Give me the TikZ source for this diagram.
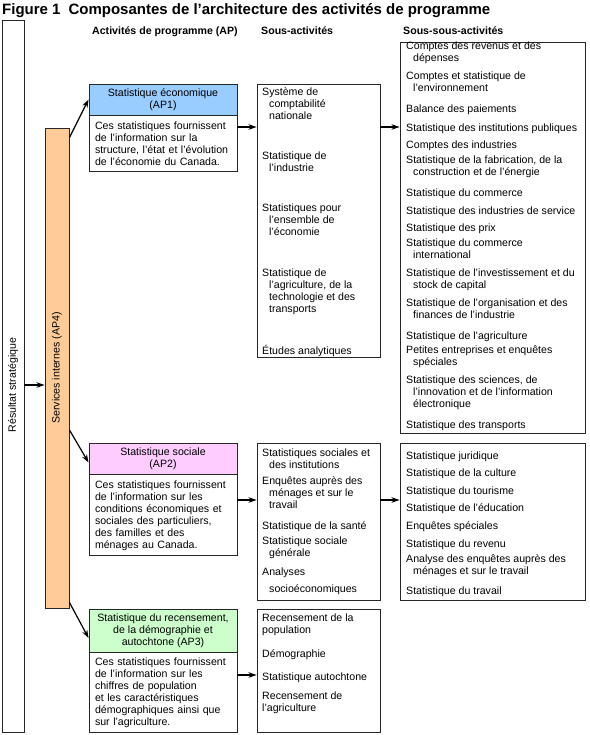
\documentclass[tikz,border=0pt]{standalone}
\usepackage{fontspec}
\setmainfont{Liberation Sans}
\usepackage{graphicx}
\usepackage{xcolor}
\usetikzlibrary{positioning,arrows.meta}
\definecolor{apblue}{HTML}{99CCFF}
\definecolor{appink}{HTML}{FFCCFF}
\definecolor{apgreen}{HTML}{CCFFCC}
\definecolor{aporange}{HTML}{FFCC99}
\newcommand{\hi}{\hspace*{7pt}}
\newcommand{\txtsize}{\fontsize{10.6}{12}\selectfont}

\begin{document}
\begin{tikzpicture}[x=1pt,y=-1pt,
  box/.style={draw=black!85,line width=0.9pt,inner sep=0pt},
  itm/.style={anchor=north west,yshift=10pt,align=left,inner sep=0pt,font=\txtsize,
    execute at begin node={\rule{0pt}{10pt}}},
  hdr/.style={box,minimum width=148pt,align=center,font=\txtsize},
  bdy/.style={box,text width=136pt,inner xsep=6pt,align=left,font=\txtsize,fill=white},
  col/.style={anchor=base west,inner sep=0pt,font=\fontsize{10.6}{12}\selectfont\bfseries},
  arr/.style={line width=1.2pt,-{Stealth[length=8pt,width=5.5pt]}}]
  \useasboundingbox (0,0) rectangle (589,735);

  \node[anchor=base west,inner sep=0pt,font=\fontsize{15}{18}\selectfont\bfseries] (title) at (2,15)
    {Figure 1\hspace{8pt}Composantes de l'architecture des activités de programme};
  \node[col] (colap) at (92,35) {Activités de programme (AP)};
  \node[col] (colsa) at (261,35) {Sous-activités};
  \node[col] (colssa) at (403,35) {Sous-sous-activités};

  \node[box,minimum width=22pt,minimum height=712pt] (res) at (13,376) {};
  \node[rotate=90,inner sep=0pt,font=\txtsize] (restxt) at (13,385) {Résultat stratégique};
  \node[box,fill=aporange,minimum width=24pt,minimum height=480pt,font=\txtsize] (sint) at (57,368)
    {\rotatebox{90}{Services internes (AP4)}};

  \node[hdr,fill=apblue,minimum height=31pt] (ap1h) at (163,99.5) {Statistique économique\\(AP1)};
  \node[bdy,minimum height=56pt,below=0pt of ap1h] (ap1b)
    {Ces statistiques fournissent\\de l'information sur la\\structure, l'état et l'évolution\\de l'économie du Canada.};
  \node[hdr,fill=appink,minimum height=31pt] (ap2h) at (163,458.5) {Statistique sociale\\(AP2)};
  \node[bdy,minimum height=81pt,below=0pt of ap2h] (ap2b)
    {Ces statistiques fournissent\\de l'information sur les\\conditions économiques et\\sociales des particuliers,\\des familles et des\\ménages au Canada.};
  \node[hdr,fill=apgreen,minimum height=43pt] (ap3h) at (163,630.5)
    {Statistique du recensement,\\de la démographie et\\autochtone (AP3)};
  \node[bdy,minimum height=80pt,below=0pt of ap3h] (ap3b)
    {Ces statistiques fournissent\\de l'information sur les\\chiffres de population\\et les caractéristiques\\démographiques ainsi que\\sur l'agriculture.};

  \node[box,minimum width=123pt,minimum height=273pt] (sa1) at (318.5,220.5) {};
  \node[box,minimum width=123pt,minimum height=157pt] (sa2) at (318.5,521.5) {};
  \node[box,minimum width=123pt,minimum height=123pt] (sa3) at (318.5,670.5) {};
  \node[box,minimum width=185pt,minimum height=391pt] (ssa1) at (492.5,237.5) {};
  \node[box,minimum width=185pt,minimum height=157pt] (ssa2) at (492.5,521.5) {};

  \foreach \yb/\t [count=\i] in {97/{Système de\\\hi comptabilité\\\hi nationale},
      162/{Statistique de\\\hi l'industrie},
      214/{Statistiques pour\\\hi l'ensemble de\\\hi l'économie},
      279/{Statistique de\\\hi l'agriculture, de la\\\hi technologie et des\\\hi transports},
      354/{Études analytiques}}
    \node[itm] (sa1-\i) at (262,\yb) {\t};
  \foreach \yb/\t [count=\i] in {459/{Statistiques sociales et\\\hi des institutions},
      486/{Enquêtes auprès des\\\hi ménages et sur le\\\hi travail},
      529/{Statistique de la santé},
      547/{Statistique sociale\\\hi générale},
      578/{Analyses\\[5pt]\hi socioéconomiques}}
    \node[itm] (sa2-\i) at (262,\yb) {\t};
  \foreach \yb/\t [count=\i] in {624/{Recensement de la\\population},
      657/{Démographie},
      680/{Statistique autochtone},
      702/{Recensement de\\l'agriculture}}
    \node[itm] (sa3-\i) at (262,\yb) {\t};

  \foreach \yb/\t [count=\i] in {52/{Comptes des revenus et des\\\hi dépenses},
      82/{Comptes et statistique de\\\hi l'environnement},
      112/{Balance des paiements},
      131/{Statistique des institutions publiques},
      148/{Comptes des industries},
      166/{Statistique de la fabrication, de la\\\hi construction et de l'énergie},
      196/{Statistique du commerce},
      214/{Statistique des industries de service},
      231/{Statistique des prix},
      249/{Statistique du commerce\\\hi international},
      279/{Statistique de l'investissement et du\\\hi stock de capital},
      309/{Statistique de l'organisation et des\\\hi finances de l'industrie},
      339/{Statistique de l'agriculture},
      356/{Petites entreprises et enquêtes\\\hi spéciales},
      386/{Statistique des sciences, de\\\hi l'innovation et de l'information\\\hi électronique},
      428/{Statistique des transports}}
    \node[itm] (ssa1-\i) at (406,\yb) {\t};
  \foreach \yb/\t [count=\i] in {459/{Statistique juridique},
      476/{Statistique de la culture},
      494/{Statistique du tourisme},
      511/{Statistique de l'éducation},
      529/{Enquêtes spéciales},
      547/{Statistique du revenu},
      564/{Analyse des enquêtes auprès des\\\hi ménages et sur le travail},
      594/{Statistique du travail}}
    \node[itm] (ssa2-\i) at (406,\yb) {\t};

  \draw[arr] (res.east |- 0,385) -- (sint.west |- 0,385);
  \draw[arr] ([yshift=-10pt]sint.north east) -- (ap1h.west);
  \draw[arr] (sint.east |- 0,430) -- ([yshift=-4pt]ap2h.west);
  \draw[arr] ([yshift=6pt]sint.south east) -- ([yshift=-7.5pt]ap3h.west);
  \draw[arr] (ap1b.east |- 0,127) -- (sa1.west |- 0,127);
  \draw[arr] (sa1.east |- 0,127) -- (ssa1.west |- 0,127);
  \draw[arr] (ap2b.east |- 0,500) -- (sa2.west |- 0,500);
  \draw[arr] (sa2.east |- 0,500) -- (ssa2.west |- 0,500);
  \draw[arr] (ap3b.east |- 0,675) -- (sa3.west |- 0,675);
\end{tikzpicture}
\end{document}
